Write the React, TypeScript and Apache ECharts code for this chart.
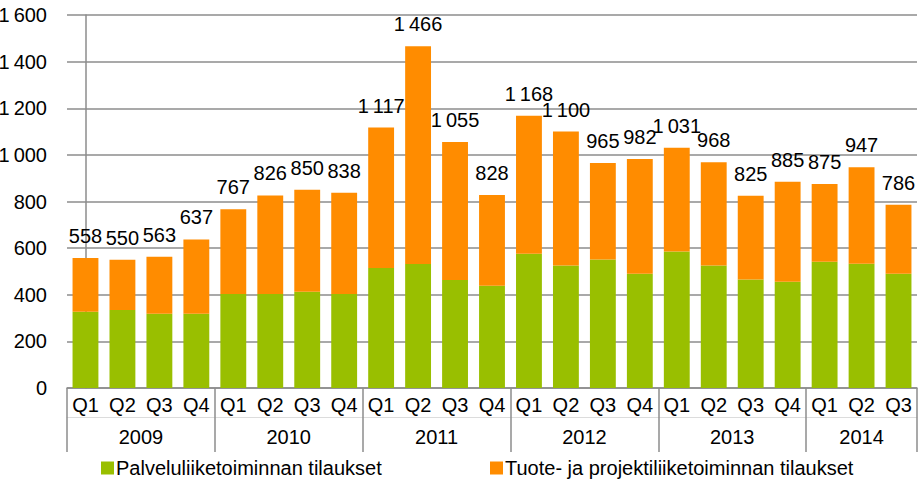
import React, { useEffect, useRef } from "react";
import * as echarts from "echarts";

const years = ["2009", "2010", "2011", "2012", "2013", "2014"];
const quartersPerYear = [4, 4, 4, 4, 4, 3];
const quarterLabels = [
  "Q1", "Q2", "Q3", "Q4",
  "Q1", "Q2", "Q3", "Q4",
  "Q1", "Q2", "Q3", "Q4",
  "Q1", "Q2", "Q3", "Q4",
  "Q1", "Q2", "Q3", "Q4",
  "Q1", "Q2", "Q3",
];
// Palveluliiketoiminnan tilaukset (green, bottom)
const serviceOrders = [
  327, 335, 318, 318,
  403, 403, 413, 403,
  515, 532, 463, 439,
  576, 525, 551, 490,
  585, 525, 465, 456,
  542, 533, 490,
];
// Totals shown above the bars
const totalOrders = [
  558, 550, 563, 637,
  767, 826, 850, 838,
  1117, 1466, 1055, 828,
  1168, 1100, 965, 982,
  1031, 968, 825, 885,
  875, 947, 786,
];
// Tuote- ja projektiliiketoiminnan tilaukset (orange, top)
const productOrders = totalOrders.map((t, i) => t - serviceOrders[i]);

const seriesNames = [
  "Palveluliiketoiminnan tilaukset",
  "Tuote- ja projektiliiketoiminnan tilaukset",
];

const fmt = (v: number) => {
  const s = String(Math.round(v));
  return s.length > 3 ? s.slice(0, s.length - 3) + "\u2009" + s.slice(-3) : s;
};

export default function App() {
  const ref = useRef<HTMLDivElement>(null);
  useEffect(() => {
    if (!ref.current) return;
    const chart = echarts.init(ref.current, null, { renderer: "svg" });

    const yearStarts: number[] = [];
    const yearCenters: number[] = [];
    let acc = 0;
    quartersPerYear.forEach((n) => {
      yearStarts.push(acc);
      yearCenters.push(acc + (n - 1) / 2);
      acc += n;
    });

    const gray = "#8c8c8c";
    const font = "'Liberation Sans', Arial, sans-serif";
    const fs = 20;

    const legendBase = {
      top: 458,
      padding: 0,
      icon: "rect",
      itemWidth: 13,
      itemHeight: 13,
      textStyle: { fontSize: fs, color: "#000", fontFamily: font, padding: [0, 0, 0, -3] },
    };

    chart.setOption({
      animation: false,
      textStyle: { fontFamily: font, color: "#000" },
      grid: {
        left: 67,
        right: 1,
        top: 15,
        bottom: 94,
        containLabel: false,
        outerBoundsMode: "none",
      },
      legend: [
        { ...legendBase, data: [seriesNames[0]], left: 101 },
        { ...legendBase, data: [seriesNames[1]], left: 490 },
      ],
      xAxis: [
        {
          type: "category",
          data: quarterLabels,
          position: "bottom",
          axisLine: { show: true, lineStyle: { color: gray, width: 1.5 } },
          axisTick: {
            show: true,
            length: 64,
            interval: (index: number) => yearStarts.includes(index),
            lineStyle: { color: gray, width: 1.5 },
          },
          axisLabel: {
            interval: 0,
            margin: 7,
            fontSize: fs,
            color: "#000",
            fontFamily: font,
          },
          splitLine: { show: false },
        },
        {
          type: "value",
          min: -0.5,
          max: quarterLabels.length - 0.5,
          interval: 0.5,
          position: "bottom",
          offset: 29,
          axisLine: { show: true, lineStyle: { color: "#dcdcdc", width: 1 } },
          axisTick: { show: false },
          splitLine: { show: false },
          axisLabel: {
            margin: 10,
            fontSize: fs,
            color: "#000",
            fontFamily: font,
            showMinLabel: true,
            showMaxLabel: true,
            formatter: (v: number) => {
              const idx = yearCenters.findIndex((c) => Math.abs(c - v) < 1e-6);
              return idx >= 0 ? years[idx] : "";
            },
          },
        },
      ],
      yAxis: {
        type: "value",
        min: 0,
        max: 1600,
        interval: 200,
        axisLine: { show: true, lineStyle: { color: gray, width: 1.5 } },
        axisTick: { show: false },
        splitLine: { show: true, lineStyle: { color: gray, width: 1.5 } },
        axisLabel: {
          margin: 20,
          fontSize: fs,
          color: "#000",
          fontFamily: font,
          formatter: (v: number) => fmt(v),
        },
      },
      series: [
        {
          name: seriesNames[0],
          type: "bar",
          stack: "total",
          barWidth: "70%",
          xAxisIndex: 0,
          yAxisIndex: 0,
          itemStyle: { color: "#99bf00" },
          data: serviceOrders,
        },
        {
          name: seriesNames[1],
          type: "bar",
          stack: "total",
          barWidth: "70%",
          xAxisIndex: 0,
          yAxisIndex: 0,
          itemStyle: { color: "#ff8c00" },
          label: {
            show: true,
            position: "top",
            distance: 12,
            fontSize: fs,
            color: "#000",
            fontFamily: font,
            formatter: (p: any) => fmt(totalOrders[p.dataIndex]),
          },
          data: productOrders,
        },
      ],
    });
    return () => chart.dispose();
  }, []);
  return (
    <div
      ref={ref}
      style={{ position: "absolute", left: 0, top: 0, width: 918, height: 482 }}
    />
  );
}
